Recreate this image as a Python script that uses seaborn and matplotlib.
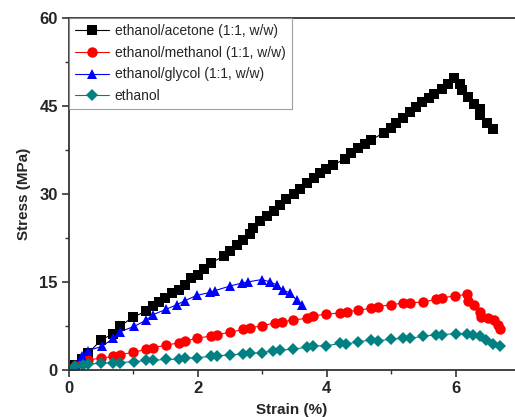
import matplotlib
matplotlib.use("Agg")
import matplotlib.pyplot as plt
import seaborn as sns
from matplotlib.ticker import MultipleLocator

# values
acetone_x = [0, 0.1, 0.2, 0.3, 0.5, 0.69, 0.79, 0.99, 1.2, 1.3, 1.39, 1.49, 1.6, 1.7, 1.8,
             1.9, 2.0, 2.1, 2.2, 2.4, 2.5, 2.6, 2.7, 2.81, 2.86, 2.97, 3.07, 3.18, 3.28, 3.37,
             3.49, 3.59, 3.7, 3.8, 3.9, 3.99, 4.1, 4.28, 4.38, 4.49, 4.59, 4.69, 4.88, 4.99,
             5.08, 5.18, 5.29, 5.38, 5.48, 5.59, 5.67, 5.78, 5.88, 5.98, 6.07, 6.09, 6.19,
             6.29, 6.37, 6.38, 6.49, 6.58]
acetone_y = [0, 0.9, 1.9, 2.9, 5.1, 6.2, 7.4, 9.0, 10.0, 10.9, 11.6, 12.3, 13.1, 13.6, 14.5,
             15.6, 16.1, 17.2, 18.2, 19.4, 20.3, 21.3, 22.1, 23.2, 24.2, 25.3, 26.2, 27.1, 28.1, 29.1,
             29.9, 30.9, 31.8, 32.7, 33.6, 34.3, 34.9, 36.0, 37.0, 37.8, 38.5, 39.2, 40.4, 41.3,
             42.1, 43.0, 43.9, 44.8, 45.6, 46.3, 47.1, 47.9, 48.7, 49.7, 48.8, 47.7, 46.6,
             45.4, 44.4, 43.4, 42.1, 41.0]

methanol_x = [0, 0.09, 0.2, 0.3, 0.5, 0.69, 0.79, 1.0, 1.2, 1.31, 1.5, 1.7, 1.8, 1.99, 2.21,
              2.29, 2.5, 2.7, 2.81, 2.99, 3.19, 3.3, 3.48, 3.69, 3.79, 3.99, 4.2, 4.31, 4.49,
              4.69, 4.8, 5.0, 5.18, 5.29, 5.49, 5.7, 5.79, 5.99, 6.18, 6.19, 6.28, 6.37, 6.4,
              6.5, 6.59, 6.66, 6.69]
methanol_y = [0, 0.7, 1.2, 1.7, 2.0, 2.3, 2.6, 3.0, 3.5, 3.8, 4.2, 4.6, 4.9, 5.4, 5.8,
              6.0, 6.4, 6.9, 7.2, 7.5, 8.0, 8.2, 8.5, 8.8, 9.2, 9.5, 9.7, 9.9, 10.2,
              10.5, 10.8, 11.1, 11.4, 11.4, 11.6, 12.0, 12.3, 12.6, 12.9, 11.8, 11.1, 9.9, 9.1,
              8.8, 8.5, 7.7, 6.9]

glycol_x = [0, 0.09, 0.2, 0.3, 0.51, 0.69, 0.79, 1.01, 1.2, 1.3, 1.5, 1.67, 1.8, 1.98, 2.19,
            2.26, 2.5, 2.68, 2.78, 2.99, 3.12, 3.22, 3.32, 3.43, 3.53, 3.61]
glycol_y = [0, 0.85, 2.4, 3.3, 4.0, 5.4, 6.5, 7.4, 8.5, 9.4, 10.3, 11.1, 11.8, 12.7, 13.2,
            13.5, 14.3, 14.8, 15.0, 15.4, 15.0, 14.5, 13.6, 13.1, 11.9, 11.1]

ethanol_x = [0, 0.09, 0.22, 0.3, 0.5, 0.69, 0.79, 1.01, 1.2, 1.3, 1.5, 1.7, 1.8, 1.99, 2.21,
             2.29, 2.5, 2.7, 2.81, 2.99, 3.17, 3.27, 3.48, 3.69, 3.79, 3.99, 4.2, 4.3, 4.49,
             4.69, 4.8, 5.0, 5.18, 5.29, 5.49, 5.7, 5.79, 6.0, 6.18, 6.27, 6.37, 6.47, 6.58, 6.68]
ethanol_y = [0, 0.6, 0.85, 1.0, 1.1, 1.25, 1.25, 1.4, 1.6, 1.6, 1.8, 1.8, 2.0, 2.1, 2.3,
             2.4, 2.55, 2.7, 2.8, 2.9, 3.3, 3.4, 3.5, 3.9, 4.1, 4.1, 4.5, 4.4, 4.8,
             5.1, 5.0, 5.2, 5.4, 5.4, 5.7, 6.0, 6.0, 6.2, 6.2, 5.9, 5.7, 5.1, 4.4, 4.0]

series = [
    ("ethanol/acetone (1:1, w/w)", acetone_x, acetone_y, "black", "s", 6.5),
    ("ethanol/methanol (1:1, w/w)", methanol_x, methanol_y, "#ff0000", "o", 7.5),
    ("ethanol/glycol (1:1, w/w)", glycol_x, glycol_y, "#0000ff", "^", 7.5),
    ("ethanol", ethanol_x, ethanol_y, "#008080", "D", 6.3),
]

sns.set_style("ticks")
plt.rcParams["font.family"] = ["Liberation Sans", "DejaVu Sans"]

fig = plt.figure(figsize=(5.15, 4.17), dpi=100)
ax = fig.add_axes([0.134, 0.113, 0.866, 0.844])

for name, xs, ys, col, mk, ms in series:
    sns.lineplot(x=xs, y=ys, ax=ax, color=col, marker=mk, markersize=ms,
                 markeredgewidth=0, linewidth=0.8, label=name,
                 sort=False, estimator=None)

ax.set_xlim(0, 6.92)
ax.set_ylim(0, 60)
ax.xaxis.set_major_locator(MultipleLocator(2))
ax.xaxis.set_minor_locator(MultipleLocator(1))
ax.yaxis.set_major_locator(MultipleLocator(15))
ax.yaxis.set_minor_locator(MultipleLocator(7.5))

for s in ["left", "bottom", "top"]:
    ax.spines[s].set_linewidth(1.3)
    ax.spines[s].set_color("#333333")
ax.spines["right"].set_visible(False)
ax.tick_params(which="major", direction="out", length=5, width=1.2, color="#333333",
               labelsize=12, pad=3)
ax.tick_params(which="minor", direction="out", length=3, width=1.0, color="#333333")
for lab in ax.get_xticklabels() + ax.get_yticklabels():
    lab.set_fontweight("bold")

ax.set_xlabel("Strain (%)", fontsize=11, fontweight="bold", labelpad=5)
ax.set_ylabel("Stress (MPa)", fontsize=11, fontweight="bold", labelpad=6)

leg = ax.legend(loc="upper left", bbox_to_anchor=(0.0, 1.0), fontsize=10, frameon=True,
                fancybox=False, borderaxespad=0, handlelength=2.4, borderpad=0.45,
                labelspacing=0.55, handletextpad=0.45)
leg.get_frame().set_edgecolor("#888888")
leg.get_frame().set_linewidth(0.8)

fig.savefig("out.png", dpi=100)
